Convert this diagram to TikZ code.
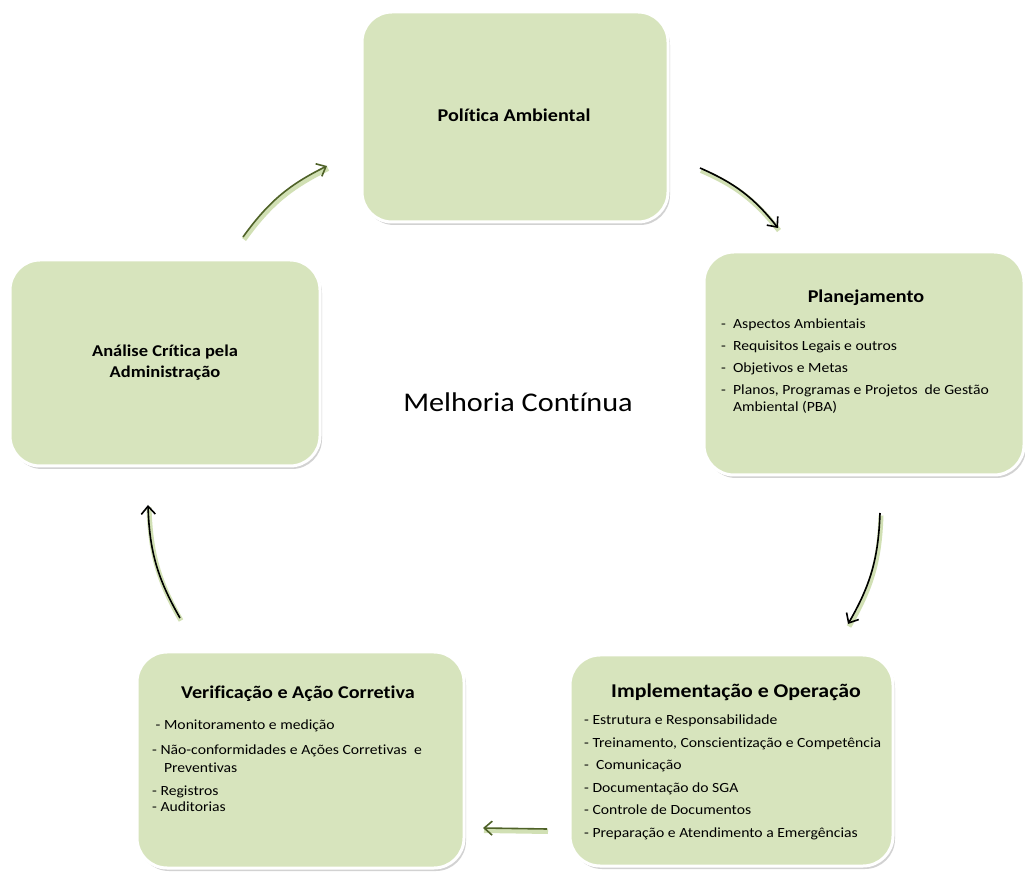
\documentclass[tikz,border=0pt]{standalone}
\usepackage{fontspec}
\setmainfont{Carlito}[Ligatures=NoCommon, FakeStretch=1.12]
\usetikzlibrary{arrows.meta,shadows}
\definecolor{stagefill}{HTML}{D7E4BD}
\definecolor{olive}{HTML}{4F6228}
\definecolor{glow}{HTML}{9BBB59}
\tikzset{
  >={Straight Barb[length=8pt,width=14pt,line width=1.6pt]},
  stage/.style={draw=white, line width=3pt, fill=stagefill,
    rounded corners=30pt, minimum width=#1,
    drop shadow={shadow xshift=2pt, shadow yshift=-3pt, opacity=.35}},
  heading/.style={font=\fontsize{18}{21}\selectfont\bfseries, align=center},
  itemlist/.style={font=\fontsize{14}{16.5}\selectfont, align=left,
    anchor=north west, inner sep=0pt},
  cycle/.style={->, line width=1.6pt, bend left=14,
    preaction={draw=glow, opacity=.45, line width=5pt, -,
      transform canvas={xshift=1pt, yshift=-2.5pt}}},
  greencycle/.style={cycle, draw=olive},
  blackcycle/.style={cycle, draw=black}
}
\begin{document}
\begin{tikzpicture}[x=1pt,y=1pt]
  \useasboundingbox (0,0) rectangle (1025,873);
  \fill[white] (0,0) rectangle (1025,873);

  % the five stages
  \node[stage=306pt, minimum height=210pt] (politica) at (515,756) {};
  \node[stage=320pt, minimum height=223pt] (planej) at (864,509.5) {};
  \node[stage=323pt, minimum height=211pt] (implem) at (731.5,112.5) {};
  \node[stage=327pt, minimum height=216pt] (verif) at (300.5,113) {};
  \node[stage=310pt, minimum height=206pt] (analise) at (165,510) {};

  \node[heading] (politicaT) at (514,758) {Política Ambiental};
  \node[heading, font=\fontsize{16.5}{21}\selectfont\bfseries] (analiseT) at (165,510) {Análise Crítica pela\\Administração};

  \node[heading] (planejT) at (866,575) {Planejamento};
  \node[itemlist] (planejL) at (721,554)
    {-\ \ Aspectos Ambientais\\[5.5pt]
     -\ \ Requisitos Legais e outros\\[5.5pt]
     -\ \ Objetivos e Metas\\[5.5pt]
     -\ \ Planos, Programas e Projetos\ \ de Gestão\\
     \phantom{-\ \ }Ambiental (PBA)};

  \node[heading, font=\fontsize{19.5}{22}\selectfont\bfseries] (implemT) at (736,181) {Implementação e Operação};
  \node[itemlist] (implemL) at (584,158)
    {- Estrutura e Responsabilidade\\[6pt]
     - Treinamento, Conscientização e Competência\\[6pt]
     -\ \ Comunicação\\[6pt]
     - Documentação do SGA\\[6pt]
     - Controle de Documentos\\[6pt]
     - Preparação e Atendimento a Emergências};

  \node[heading] (verifT) at (298,179) {Verificação e Ação Corretiva};
  \node[itemlist] (verifL) at (152,153)
    {\ - Monitoramento e medição\\[8.5pt]
     - Não-conformidades e Ações Corretivas\ \ e\\[1pt]
     \phantom{-\ \ }Preventivas\\[6.5pt]
     - Registros\\
     - Auditorias};

  \node[font=\fontsize{27}{31}\selectfont] (melhoria) at (518,471) {Melhoria Contínua};

  % cycle arrows
  \coordinate (a1s) at (243,636); \coordinate (a1e) at (327,707);
  \coordinate (a2s) at (700,705); \coordinate (a2e) at (778,645);
  \coordinate (a3s) at (880,360); \coordinate (a3e) at (848,249);
  \coordinate (a4s) at (547,44);  \coordinate (a4e) at (483,45);
  \coordinate (a5s) at (180,255); \coordinate (a5e) at (148,368);
  \draw[greencycle] (a1s) to (a1e);
  \draw[blackcycle] (a2s) to (a2e);
  \draw[blackcycle] (a3s) to (a3e);
  \draw[greencycle, bend left=0] (a4s) to (a4e);
  \draw[blackcycle] (a5s) to (a5e);
\end{tikzpicture}
\end{document}
